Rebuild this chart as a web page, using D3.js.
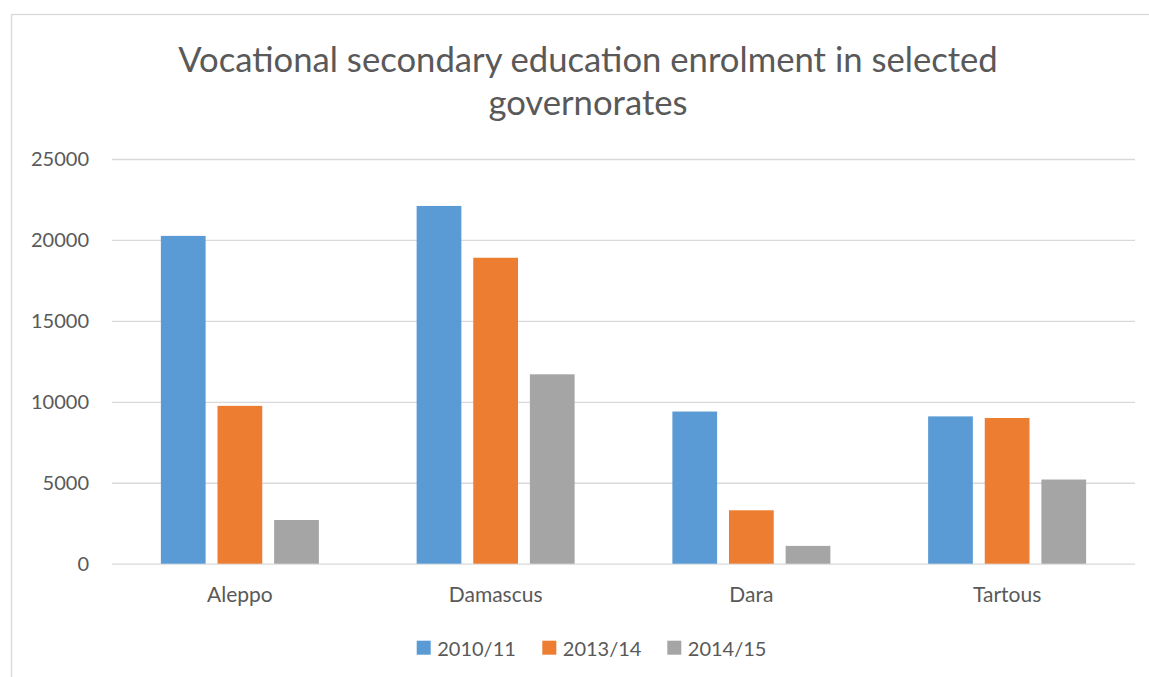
<!DOCTYPE html>
<html>
<head>
<meta charset="utf-8">
<script src="https://cdn.jsdelivr.net/npm/d3@7"></script>
<style>
  html, body { margin: 0; padding: 0; background: #fff; }
  svg { display: block; font-family: Lato, "Open Sans", sans-serif; }
</style>
</head>
<body>
<svg id="chart" width="1149" height="677"></svg>
<script>
// Enrolment in vocational secondary education, by governorate and school year
const categories = ["Aleppo", "Damascus", "Dara", "Tartous"];
const seriesNames = ["2010/11", "2013/14", "2014/15"];
const values2010 = [20250, 22100, 9400, 9100];
const values2013 = [9750, 18900, 3300, 9000];
const values2014 = [2700, 11700, 1100, 5200];
const yTicks = [0, 5000, 10000, 15000, 20000, 25000];
const colors = ["#5b9bd5", "#ed7d31", "#a5a5a5"];
const titleLines = ["Vocational secondary education enrolment in selected", "governorates"];

const seriesValues = [values2010, values2013, values2014];
const rows = categories.map((c, i) => ({
  category: c,
  values: seriesNames.map((s, j) => ({ series: s, value: seriesValues[j][i] }))
}));

const svg = d3.select("#chart");
const W = 1149, H = 677;
const plot = { left: 112, right: 1135, top: 159, bottom: 563.7 };
const textColor = "#595959";
const gridColor = "#d9d9d9";

// chart area frame
svg.append("rect")
  .attr("x", 11.5).attr("y", 14.5)
  .attr("width", W + 10).attr("height", H + 10)
  .attr("fill", "#fff").attr("stroke", gridColor).attr("stroke-width", 1.3);

const y = d3.scaleLinear().domain([0, 25000]).range([plot.bottom, plot.top]);
const x0 = d3.scaleBand().domain(categories).range([plot.left, plot.right]).padding(0);
const groupWidth = 158;
const groupOffset = (x0.bandwidth() - groupWidth) / 2;
const x1 = d3.scaleBand().domain(seriesNames)
  .range([groupOffset, groupOffset + groupWidth])
  .paddingInner(0.21).paddingOuter(0);

// horizontal gridlines
const yAxis = d3.axisLeft(y).tickValues(yTicks).tickSize(-(plot.right - plot.left)).tickPadding(23)
  .tickFormat(d3.format("d"));
const gy = svg.append("g").attr("transform", `translate(${plot.left},0)`).call(yAxis);
gy.select(".domain").remove();
gy.selectAll(".tick line").attr("stroke", gridColor).attr("stroke-width", 1.33);
gy.selectAll(".tick text")
  .attr("fill", textColor).attr("font-size", 20)
  .attr("font-family", "Lato, sans-serif");

// bars
const groups = svg.append("g").selectAll("g")
  .data(rows).join("g")
  .attr("transform", d => `translate(${x0(d.category)},0)`);
groups.selectAll("rect")
  .data(d => d.values).join("rect")
  .attr("x", d => x1(d.series))
  .attr("width", x1.bandwidth())
  .attr("y", d => y(d.value))
  .attr("height", d => y(0) - y(d.value))
  .attr("fill", (d, i) => colors[i]);

// category axis
const xAxis = d3.axisBottom(x0).tickSize(0).tickPadding(0);
const gx = svg.append("g").attr("transform", `translate(0,${plot.bottom})`).call(xAxis);
gx.select(".domain").remove();
gx.selectAll(".tick text")
  .attr("fill", textColor).attr("font-size", 21)
  .attr("font-family", "Lato, sans-serif")
  .attr("dy", null).attr("y", 38.8);

// title
const title = svg.append("g");
const titleText = title.selectAll("text").data(titleLines).join("text")
  .attr("x", 588)
  .attr("y", (d, i) => 72 + i * 43)
  .attr("text-anchor", "middle")
  .attr("fill", textColor)
  .attr("font-size", 36)
  .text(d => d);
const firstLen = titleText.node().getComputedTextLength();
const titleSize = Math.min(38, 36 * 820 / firstLen);
titleText.attr("font-size", titleSize);

// legend
const legendX = [416.7, 542.3, 667.3];
const legend = svg.append("g").selectAll("g")
  .data(seriesNames).join("g")
  .attr("transform", (d, i) => `translate(${legendX[i]},640.7)`);
legend.append("rect").attr("width", 14).attr("height", 14)
  .attr("fill", (d, i) => colors[i]);
legend.append("text").attr("x", 20.5).attr("y", 15.3)
  .attr("fill", textColor).attr("font-size", 20)
  .text(d => d);
</script>
</body>
</html>
